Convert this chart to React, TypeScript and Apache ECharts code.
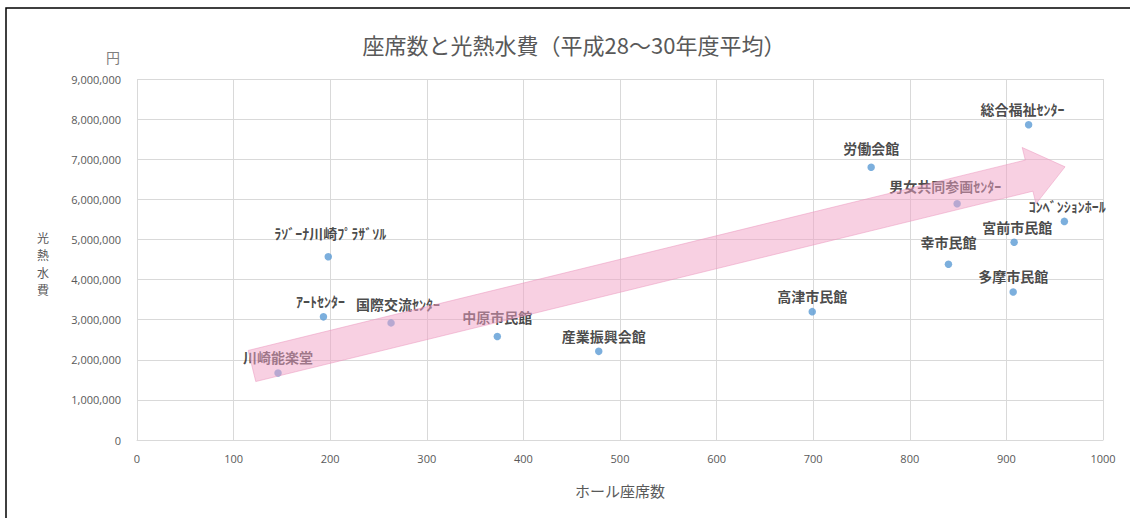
import React, { useEffect, useRef } from "react";
import * as echarts from "echarts";

const hallNames = [
  "川崎能楽堂",
  "ｱｰﾄｾﾝﾀｰ",
  "ﾗｿﾞｰﾅ川崎ﾌﾟﾗｻﾞｿﾙ",
  "国際交流ｾﾝﾀｰ",
  "中原市民館",
  "産業振興会館",
  "高津市民館",
  "労働会館",
  "幸市民館",
  "男女共同参画ｾﾝﾀｰ",
  "多摩市民館",
  "宮前市民館",
  "総合福祉ｾﾝﾀｰ",
  "ｺﾝﾍﾞﾝｼｮﾝﾎｰﾙ",
];
const seatCounts = [146, 193, 198, 263, 373, 478, 699, 760, 840, 849, 907, 908, 923, 960];
const utilityCosts = [
  1670000, 3070000, 4570000, 2920000, 2580000, 2210000, 3200000, 6800000, 4380000, 5890000,
  3690000, 4930000, 7860000, 5450000,
];
// label nudges (style only), same order as hallNames
const labelNudges: [number, number][] = [
  [0, 0], [-3, 0], [2, -8], [7, -3], [0, -4], [5, 0], [0, 0], [0, -4], [0, -7], [-12, -2],
  [0, 0], [3, 0], [-6, 0], [3, 0],
];
const xTicks = { min: 0, max: 1000, interval: 100 };
const yTicks = { min: 0, max: 9000000, interval: 1000000 };
const yNameChars = ["光", "熱", "水", "費"];
// trend arrow anchors in data space (tail centre, tip)
const arrowTail = [119, 1845000];
const arrowTip = [960.7, 6810000];

const GREY = "#595959";
const FONT = "'Noto Sans CJK JP', 'Noto Sans', sans-serif";

export default function App() {
  const ref = useRef<HTMLDivElement>(null);
  useEffect(() => {
    const chart = echarts.init(ref.current!, null, { renderer: "svg" });
    const data = hallNames.map((n, i) => ({
      name: n,
      value: [seatCounts[i], utilityCosts[i]],
      label: { offset: labelNudges[i] },
    }));
    chart.setOption({
      animation: false,
      backgroundColor: "#ffffff",
      textStyle: { fontFamily: FONT },
      title: {
        text: "座席数と光熱水費（平成28～30年度平均）",
        left: 569,
        textAlign: "center",
        top: 28,
        textStyle: { fontSize: 22, fontWeight: "normal", color: GREY, fontFamily: FONT },
      },
      grid: { left: 137, right: 27, top: 79, bottom: 78, containLabel: false },
      xAxis: {
        type: "value",
        min: xTicks.min,
        max: xTicks.max,
        interval: xTicks.interval,
        axisLine: { show: true, lineStyle: { color: "#d9d9d9" } },
        axisTick: { show: false },
        axisLabel: {
          color: GREY,
          fontSize: 11,
          margin: 13,
          fontFamily: "'Open Sans', sans-serif",
          formatter: (v: number) => String(v),
        },
        splitLine: { show: true, lineStyle: { color: "#d9d9d9" } },
      },
      yAxis: {
        type: "value",
        min: yTicks.min,
        max: yTicks.max,
        interval: yTicks.interval,
        axisLine: { show: false },
        axisTick: { show: false },
        axisLabel: {
          color: GREY,
          fontSize: 11,
          margin: 16,
          fontFamily: "'Open Sans', sans-serif",
          formatter: (v: number) => v.toLocaleString("en-US"),
        },
        splitLine: { show: true, lineStyle: { color: "#d9d9d9" } },
      },
      series: [
        {
          type: "scatter",
          symbolSize: 7.5,
          itemStyle: { color: "#5b9bd5" },
          label: {
            show: true,
            position: "top",
            distance: 5,
            formatter: "{b}",
            color: "#1a1a1a",
            fontSize: 14,
            fontWeight: "bold",
            fontFamily: FONT,
          },
          data,
          z: 2,
        },
      ],
    });

    const p0 = chart.convertToPixel({ gridIndex: 0 }, arrowTail) as number[];
    const p1 = chart.convertToPixel({ gridIndex: 0 }, arrowTip) as number[];
    const dx = p1[0] - p0[0];
    const dy = p1[1] - p0[1];
    const len = Math.hypot(dx, dy);
    const ux = dx / len, uy = dy / len;
    const nx = -uy, ny = ux;
    const w = 16, h = 29, L = 37;
    const bx = p1[0] - ux * L, by = p1[1] - uy * L;
    const pts = [
      [p0[0] + nx * w, p0[1] + ny * w],
      [bx + nx * w, by + ny * w],
      [bx + nx * h, by + ny * h],
      [p1[0], p1[1]],
      [bx - nx * h, by - ny * h],
      [bx - nx * w, by - ny * w],
      [p0[0] - nx * w, p0[1] - ny * w],
    ];

    chart.setOption({
      graphic: [
        {
          type: "rect",
          shape: { x: 6, y: 8, width: 1140, height: 530 },
          style: { fill: "none", stroke: "#000", lineWidth: 1.5 },
          silent: true,
          z: 0,
        },
        {
          type: "polygon",
          shape: { points: pts },
          style: { fill: "rgba(242,162,198,0.5)", stroke: "rgba(236,150,190,0.5)", lineWidth: 1 },
          silent: true,
          z: 100,
        },
        {
          type: "text",
          x: 113,
          y: 57,
          style: { text: "円", fill: "#7f7f7f", fontSize: 14, fontFamily: FONT, align: "center", verticalAlign: "middle" },
        },
        ...yNameChars.map((c, i) => ({
          type: "text",
          x: 43,
          y: 237 + i * 17.5,
          style: {
            text: c,
            fill: GREY,
            fontSize: 12,
            fontFamily: FONT,
            align: "center",
            verticalAlign: "middle",
          },
        })),
        {
          type: "text",
          x: 620,
          y: 490,
          style: { text: "ホール座席数", fill: GREY, fontSize: 15, fontFamily: FONT, align: "center", verticalAlign: "middle" },
        },
      ],
    });
    return () => chart.dispose();
  }, []);
  return (
    <div
      ref={ref}
      style={{ position: "absolute", left: 0, top: 0, width: 1130, height: 518, background: "#fff" }}
    />
  );
}
